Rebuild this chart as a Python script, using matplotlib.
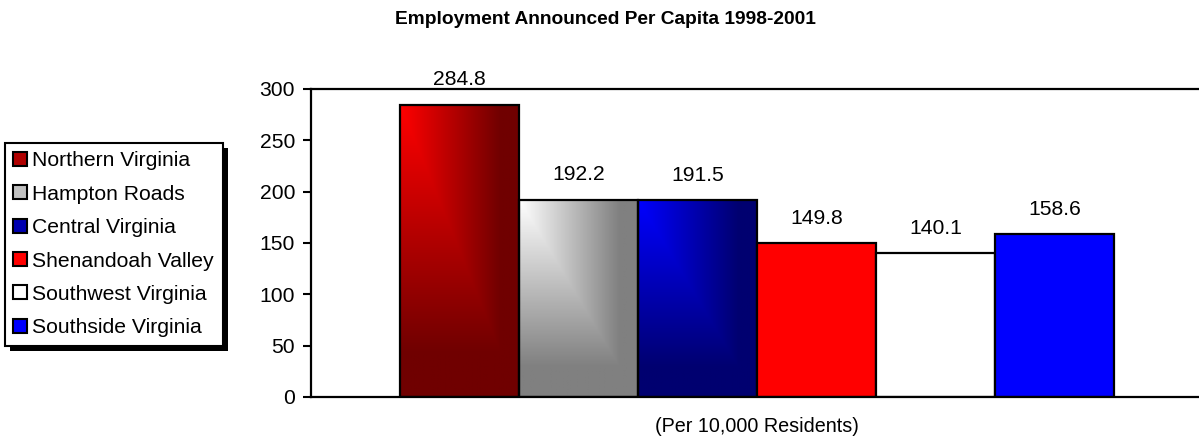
import numpy as np
import matplotlib
matplotlib.use("Agg")
from matplotlib import pyplot as plt
from matplotlib.patches import Patch, Rectangle

plt.rcParams['font.family'] = ['Liberation Sans', 'DejaVu Sans']

regions = ["Northern Virginia", "Hampton Roads", "Central Virginia",
           "Shenandoah Valley", "Southwest Virginia", "Southside Virginia"]
values = [284.8, 192.2, 191.5, 149.8, 140.1, 158.6]
# (bright, dark) colour pairs; same colour twice means a flat fill
fills = [((255, 0, 0), (112, 0, 0)),
         ((255, 255, 255), (128, 128, 128)),
         ((0, 0, 255), (0, 0, 112)),
         ((255, 0, 0), (255, 0, 0)),
         ((255, 255, 255), (255, 255, 255)),
         ((0, 0, 255), (0, 0, 255))]
legend_colors = ["#b00000", "#c0c0c0", "#0000b0", "#ff0000", "#ffffff", "#0000ff"]

FS = 15.2


def corner_gradient(c0, c1, n=120):
    # bright in the top-left corner, darker towards right and bottom
    u = np.linspace(0, 1, n)[None, :]
    v = np.linspace(0, 1, n)[:, None]
    t = np.clip(np.maximum(u, v) / 0.85, 0, 1)[..., None]
    c0 = np.array(c0) / 255.0
    c1 = np.array(c1) / 255.0
    return c0 * (1 - t) + c1 * t


fig = plt.figure(figsize=(11.99, 4.43), dpi=100)
ax = fig.add_axes([311 / 1199, 1 - 397 / 443, (1203 - 311) / 1199, (397 - 89) / 443])

x = np.arange(len(values))
for i, (val, (c0, c1)) in enumerate(zip(values, fills)):
    if c0 != c1:
        ax.imshow(corner_gradient(c0, c1), extent=(i - 0.5, i + 0.5, 0, val),
                  aspect='auto', origin='upper', zorder=1)
        fc = 'none'
    else:
        fc = np.array(c0) / 255.0
    ax.bar(i, val, width=1.0, facecolor=fc, edgecolor='black', linewidth=1.6, zorder=2)
    ax.annotate(f"{val:.1f}", (i, val), xytext=(0, 18), textcoords='offset points',
                ha='center', va='center', fontsize=FS, clip_on=False, zorder=5)

ax.set_xlim(-0.5 - 89 / 119, 5.5 + 89 / 119)
ax.set_ylim(0, 300)
ax.set_yticks(np.arange(0, 301, 50))
ax.set_xticks([])
ax.tick_params(axis='y', direction='out', length=5.5, width=1.5, labelsize=FS, pad=6)
for s in ['left', 'top', 'bottom']:
    ax.spines[s].set_linewidth(1.6)
ax.spines['right'].set_visible(False)

fig.text(605 / 1199, 1 - 19 / 443, "Employment Announced Per Capita 1998-2001",
         ha='center', va='center', fontsize=13.8, fontweight='bold')
fig.text(757 / 1199, 1 - 427 / 443, "(Per 10,000 Residents)",
         ha='center', va='center', fontsize=14.2)

handles = [Patch(facecolor=c, edgecolor='black', linewidth=1.5) for c in legend_colors]
leg = fig.legend(handles, regions, loc='upper left',
                 bbox_to_anchor=(5 / 1199, 1 - 143 / 443), fontsize=FS,
                 handlelength=0.65, handleheight=0.65, handletextpad=0.25,
                 labelspacing=0.68, borderpad=0.4, borderaxespad=0,
                 fancybox=False, framealpha=1, edgecolor='black')
leg.get_frame().set_linewidth(1.5)

# solid black drop shadow behind the legend box
fig.canvas.draw()
bb = leg.get_window_extent()
fig.patches.append(Rectangle((bb.x0 + 5, bb.y0 - 5), bb.width, bb.height,
                             transform=None, facecolor='black', edgecolor='none',
                             zorder=4))

fig.savefig("out.png", dpi=100)
